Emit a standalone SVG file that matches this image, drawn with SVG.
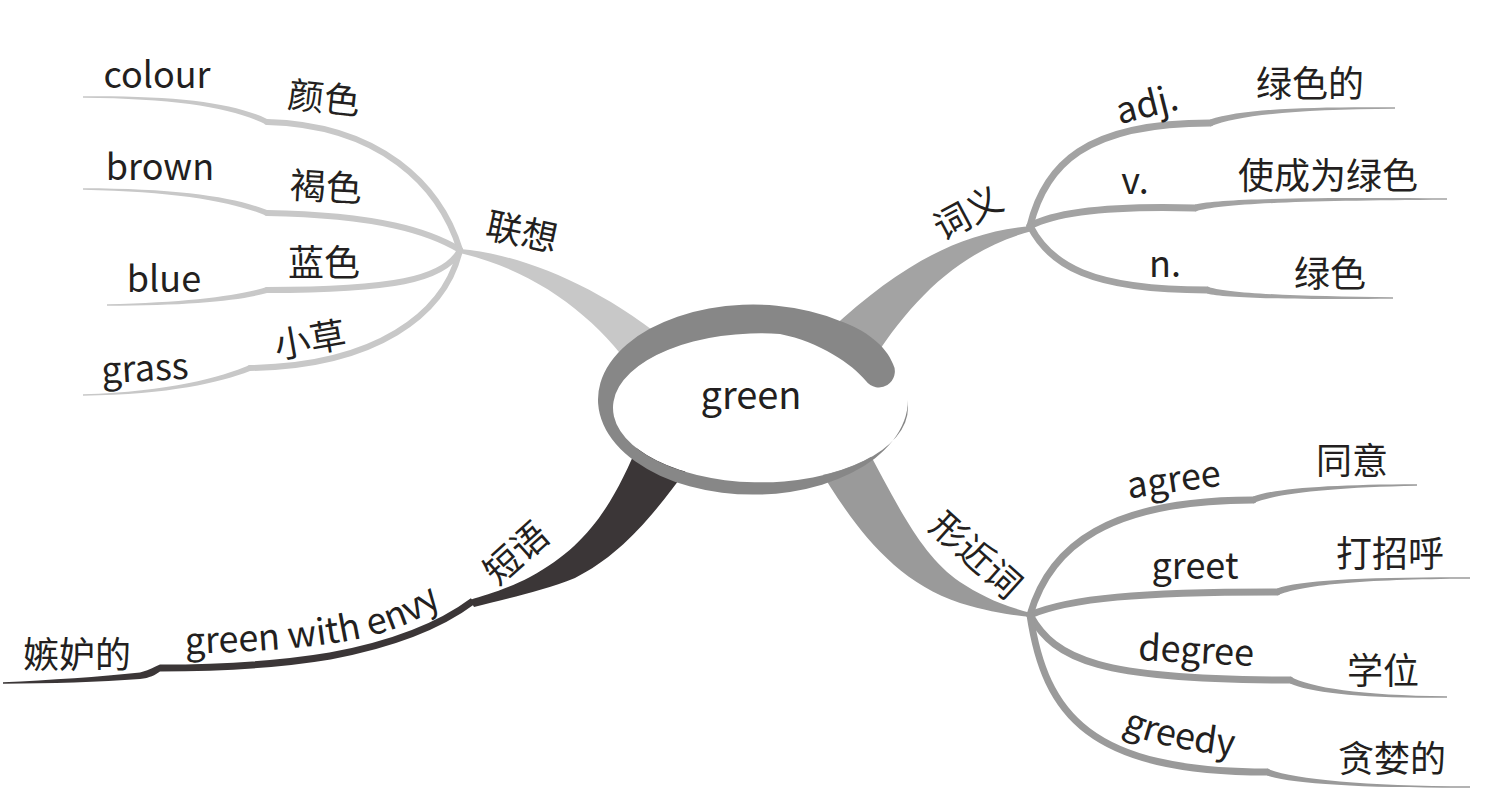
<svg xmlns="http://www.w3.org/2000/svg" width="1489" height="794" viewBox="0 0 1489 794">
<style>
.t{font-family:"Noto Sans CJK SC","Noto Sans",sans-serif;font-size:36px;fill:#231f20;text-anchor:middle}
.l1{fill:#c8c8c8}
.s1{fill:none;stroke:#c8c8c8;stroke-width:6;stroke-linecap:round}
.l2{fill:#a3a3a3}
.s2{fill:none;stroke:#a3a3a3;stroke-width:7;stroke-linecap:round}
.l3{fill:#9a9a9a}
.s3{fill:none;stroke:#9a9a9a;stroke-width:7;stroke-linecap:round}
.l4{fill:#3b3637}
.s4{fill:none;stroke:#3b3637;stroke-width:7;stroke-linecap:round}
</style>
<defs>
<path id="envyPath" d="M185,654 C300,650 390,644 440,605"/>
<path id="greedyPath" d="M1122,731 C1150,744 1190,752 1245,757"/>
</defs>
<rect width="1489" height="794" fill="#ffffff"/>
<g id="connectors">
  <!-- 联想 -->
  <path class="l1" d="M460,249 C520,254 600,285 675,348 L640,380 C600,320 540,272 460,253 Z"/>
  <path class="s1" d="M460,250 C440,185 380,125 267,122"/>
  <path class="l1" d="M267,119 C235,103.5 180,95.5 83,96.3 L83,97.7 C180,98.5 235,108.5 267,125 Z"/>
  <path class="s1" d="M460,250 C430,232 380,215 267,213"/>
  <path class="l1" d="M267,210 C235,197.5 180,188.5 83,188.3 L83,189.7 C180,191.5 235,202.5 267,216 Z"/>
  <path class="s1" d="M460,250 C445,280 390,290 267,290"/>
  <path class="l1" d="M267,287 C240,295.5 190,302.5 107,304.3 L107,305.7 C190,305.5 240,300.5 267,293 Z"/>
  <path class="s1" d="M460,250 C445,315 375,366 250,368"/>
  <path class="l1" d="M250,365 C220,377.5 170,391.5 83,394.3 L83,395.7 C170,394.5 220,382.5 250,371 Z"/>
  <!-- 词义 -->
  <path class="l2" d="M1032,226 C960,232 900,265 830,330 L868,368 C910,300 960,250 1032,231 Z"/>
  <path class="s2" d="M1030,226 C1045,165 1085,123 1210,123"/>
  <path class="l2" d="M1210,119.5 C1240,109.5 1300,106.5 1395,107.25 L1395,108.75 C1300,109.5 1240,114.5 1210,126.5 Z"/>
  <path class="s2" d="M1030,226 C1060,210 1120,206 1195,208"/>
  <path class="l2" d="M1195,204.5 C1220,198.5 1300,197.5 1447,198.25 L1447,199.75 C1300,200.5 1220,203.5 1195,211.5 Z"/>
  <path class="s2" d="M1030,226 C1050,265 1090,290 1207,290"/>
  <path class="l2" d="M1207,286.5 C1225,293.5 1300,296.5 1393,297.25 L1393,298.75 C1300,299.5 1225,298.5 1207,293.5 Z"/>
  <!-- 形近词 -->
  <path class="l3" d="M815,462 C850,520 890,580 960,603 C990,612 1010,615 1031,617 L1031,613 C1000,605 980,595 960,582 C920,555 895,500 865,445 Z"/>
  <path class="s3" d="M1030,615 C1050,545 1110,500 1253,500"/>
  <path class="l3" d="M1253,496.5 C1275,488.5 1330,484.5 1417,484.25 L1417,485.75 C1330,487.5 1275,493.5 1253,503.5 Z"/>
  <path class="s3" d="M1030,615 C1070,598 1140,592 1277,592"/>
  <path class="l3" d="M1277,588.5 C1300,580.5 1360,577 1470,577.25 L1470,578.75 C1360,579 1300,585.5 1277,595.5 Z"/>
  <path class="s3" d="M1030,615 C1055,660 1100,680 1290,680"/>
  <path class="l3" d="M1290,676.5 C1310,687.5 1360,695.5 1447,696.25 L1447,697.75 C1360,698.5 1310,692.5 1290,683.5 Z"/>
  <path class="s3" d="M1030,615 C1045,715 1090,772 1267,772"/>
  <path class="l3" d="M1267,768.5 C1290,778.5 1360,786 1470,786.25 L1470,787.75 C1360,788 1290,783.5 1267,775.5 Z"/>
  <!-- 短语 -->
  <path class="l4" d="M640,440 C615,500 590,545 530,577 C505,590 485,595 470,600 L474,607 C500,600 540,592 575,578 C620,555 650,520 690,465 Z"/>
  <path class="s4" d="M473,601 C445,622 400,643 330,656 C270,666 200,668 160,668" style="stroke-linecap:butt"/>
  <path class="l4" d="M160,664.5 C152,668 147,671 140,672.5 C100,677 50,680 3,682.3 L3,683.7 C50,683.5 100,682 140,679 C150,678 155,675 160,671.5 Z"/>
</g>
<g id="center">
  <ellipse cx="760.5" cy="407.5" rx="147.5" ry="74.5" fill="#ffffff"/>
  <path fill="#878787" d="M908,400 A155 95 0 1 1 840,321 C866,330 886,346 893,364 A16 16 0 0 1 866,381 C852,364 820,342 780,334 A147.5 74.5 0 1 0 908,407.5 Z"/>
  <text class="t" x="751" y="409" style="font-size:38px">green</text>
</g>
<g id="node-lianxiang"><text class="t" x="522" y="245" transform="rotate(12 522 232)">联想</text></g>
<g id="node-yanse"><text class="t" x="324" y="111" transform="rotate(6 324 98)">颜色</text></g>
<g id="node-colour"><text class="t" x="157" y="88">colour</text></g>
<g id="node-hese"><text class="t" x="326" y="200" transform="rotate(3 326 187)">褐色</text></g>
<g id="node-brown"><text class="t" x="160" y="180">brown</text></g>
<g id="node-lanse"><text class="t" x="324" y="276">蓝色</text></g>
<g id="node-blue"><text class="t" x="164" y="292">blue</text></g>
<g id="node-xiaocao"><text class="t" x="310" y="353" transform="rotate(-10 310 340)">小草</text></g>
<g id="node-grass"><text class="t" x="145" y="381" transform="rotate(-3 145 372)">grass</text></g>
<g id="node-ciyi"><text class="t" x="968" y="226" transform="rotate(-28 968 213)">词义</text></g>
<g id="node-adj"><text class="t" x="1147" y="117" transform="rotate(-14 1147 105)">adj.</text></g>
<g id="node-lvsede"><text class="t" x="1310" y="97">绿色的</text></g>
<g id="node-v"><text class="t" x="1135" y="194">v.</text></g>
<g id="node-shicheng"><text class="t" x="1328" y="189">使成为绿色</text></g>
<g id="node-n"><text class="t" x="1165" y="277">n.</text></g>
<g id="node-lvse"><text class="t" x="1330" y="287">绿色</text></g>
<g id="node-duanyu"><text class="t" x="516" y="566" transform="rotate(-42 516 553)">短语</text></g>
<g id="node-envy"><text class="t" style="text-anchor:start"><textPath href="#envyPath">green with envy</textPath></text></g>
<g id="node-jidu"><text class="t" x="77" y="668">嫉妒的</text></g>
<g id="node-xingjinci"><text class="t" x="976" y="568" transform="rotate(42 976 555)">形近词</text></g>
<g id="node-agree"><text class="t" x="1174" y="492" transform="rotate(-8 1174 482)">agree</text></g>
<g id="node-tongyi"><text class="t" x="1352" y="474">同意</text></g>
<g id="node-greet"><text class="t" x="1195" y="579">greet</text></g>
<g id="node-dazhaohu"><text class="t" x="1390" y="567">打招呼</text></g>
<g id="node-degree"><text class="t" x="1196" y="663" transform="rotate(3 1196 655)">degree</text></g>
<g id="node-xuewei"><text class="t" x="1383" y="684">学位</text></g>
<g id="node-greedy"><text class="t" style="text-anchor:start"><textPath href="#greedyPath">greedy</textPath></text></g>
<g id="node-tanlan"><text class="t" x="1392" y="772">贪婪的</text></g>
</svg>
